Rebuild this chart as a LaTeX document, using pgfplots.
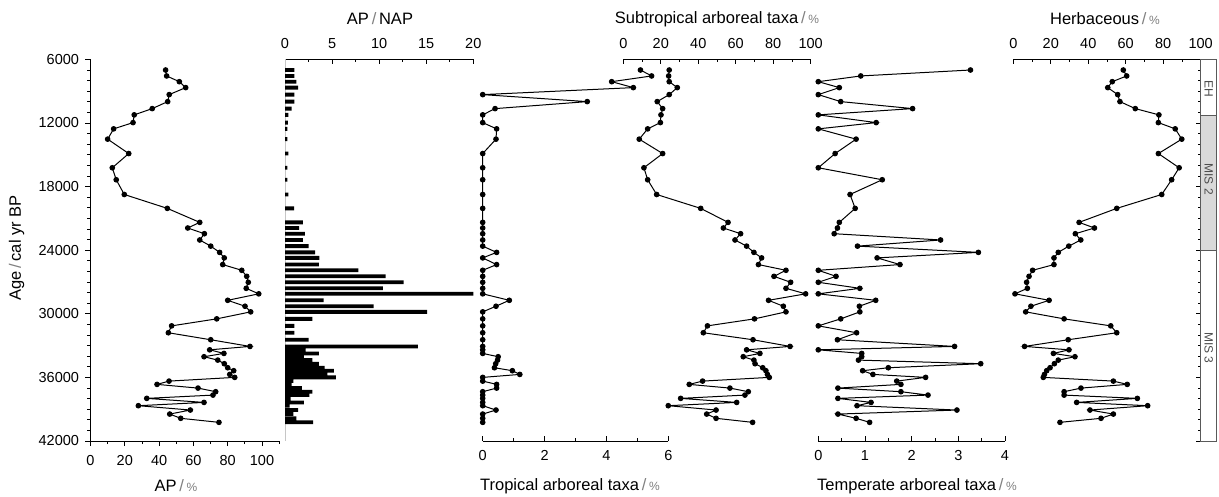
\documentclass[border=0pt]{standalone}
\usepackage{fontspec}
\setmainfont{Liberation Sans}
\usepackage{pgfplots}
\usepackage{pgfplotstable}
\pgfplotsset{compat=1.18}
\pgfplotstableread{
age ap apnap trop sub temp herb
7010 43.8 1.0 5.1 24.5 3.26 58.7
7570 44.4 1.0 5.46 24.2 0.91 60.5
8110 51.8 1.2 4.17 24.5 0 52.8
8670 55.5 1.4 4.87 28.8 0.45 50.4
9330 45.9 1.0 0 24.5 0 55.7
9990 45.0 1.0 3.38 18.1 0.48 56.9
10650 36.0 0.7 0.4 21.0 2.02 65.1
11240 25.5 0.35 0 20.1 0 77.7
11970 24.8 0.3 0 19.8 1.24 77.4
12560 13.5 0.25 0.45 13.0 0 86.4
13530 10.0 0.25 0.43 8.5 0.81 89.9
14890 22.3 0.35 0 21.0 0.36 77.4
16230 12.7 0.25 0 11.0 0 88.5
17360 15.0 0.25 0 13.0 1.37 84.5
18750 19.7 0.35 0 17.8 0.68 79.2
20060 44.8 0.96 0 41.3 0.79 55.2
21380 63.7 1.9 0 55.9 0.45 35.1
21910 56.7 1.5 0 53.4 0.41 43.3
22450 66.4 2.1 0 62.6 0.34 33.1
23040 63.7 1.9 0 59.6 2.62 36.0
23620 70.1 2.5 0 65.8 0.84 29.6
24210 75.3 3.2 0.45 69.7 3.43 24.0
24730 78.0 3.65 0 73.8 1.26 21.7
25360 77.1 3.6 0.45 72.1 1.75 21.7
25900 88.2 7.8 0 86.8 0 10.3
26470 91.1 10.7 0 80.4 0.38 8.4
27030 92.0 12.6 0 89.3 0 7.1
27600 90.8 10.4 0 86.8 0.89 7.5
28120 98.1 20.0 0 97.3 0 0.9
28730 80.0 4.1 0.86 77.5 1.23 19.1
29290 90.1 9.4 0.43 85.4 0.88 9.4
29820 93.4 15.1 0 86.8 0.89 6.6
30480 73.6 2.9 0 70.0 0.48 27.1
31140 47.3 1.0 0 44.9 0 52.0
31790 45.4 1.0 0 42.7 0.82 55.2
32450 70.1 2.5 0 69.2 0.41 29.3
33080 93.0 14.1 0 89.0 2.92 6.0
33400 69.5 2.2 0 65.8 0 29.7
33740 77.8 3.6 0 72.9 0.93 21.4
34050 66.2 2.0 0.5 64.0 0.93 32.9
34370 74.2 2.9 0.48 69.7 0.86 24.0
34710 78.0 3.6 0.42 70.3 3.48 21.9
35090 80.0 4.2 0.38 74.4 1.5 19.6
35370 83.5 5.2 0.96 76.1 0.95 17.8
35720 81.2 4.5 1.2 76.9 1.17 16.6
36000 84.1 5.4 0 77.9 2.3 16.0
36350 45.8 0.9 0 42.3 1.68 53.4
36660 38.8 0.7 0.45 35.2 1.77 60.8
37010 62.7 1.8 0.45 56.9 0.42 36.1
37350 73.0 2.9 0 66.7 1.77 27.1
37670 71.4 2.6 0 64.9 2.35 27.1
37980 32.8 0.6 0 30.6 0.42 66.2
38360 66.2 2.0 0 60.5 1.13 33.8
38670 27.9 0.5 0 24.0 0.83 71.7
39080 58.2 1.4 0.43 49.5 2.97 40.9
39460 46.2 0.9 0 44.5 0.42 53.4
39860 52.6 1.2 0 49.5 0.81 46.8
40240 74.9 3.0 0 69.0 1.1 24.9
}\data
\newcommand{\sep}{{\color{gray}\,/\,}}
\newcommand{\pct}{{\color{gray}\fontsize{12}{12}\selectfont\%}}
\pgfplotsset{
  panel/.style={
    scale only axis, height=381.7pt, anchor=south west,
    ymin=6000, ymax=42000, y dir=reverse,
    axis line style={black, line width=0.75pt},
    every tick/.style={black, line width=0.75pt},
    major tick length=5pt, minor tick length=3pt,
    tick label style={font=\fontsize{14.5}{16}\selectfont},
    /pgf/number format/assume math mode=true,
    /pgf/number format/1000 sep={},
    scaled x ticks=false, scaled y ticks=false,
    clip=false,
  },
  toplab/.style={x tick label style={yshift=7pt}},
  botlab/.style={x tick label style={yshift=-6pt}},
  curve/.style={black, line width=1pt, mark=*, mark size=2.3pt, mark options={solid, fill=black}},
}
\begin{document}
\begin{tikzpicture}
\useasboundingbox (0pt,0pt) rectangle (1219pt,496pt);
% AP
\begin{axis}[panel, botlab, at={(90.5pt,55pt)}, width=188.65pt, xmin=0, xmax=110,
  axis x line*=bottom, axis y line*=left, tick align=outside,
  xtick={0,20,...,100}, minor xtick={10,30,...,110},
  ytick={6000,12000,...,42000}, minor y tick num=5,
  y tick label style={xshift=-3pt}]
\addplot[curve] table[x=ap,y=age]{\data};
\end{axis}
% AP/NAP
\begin{axis}[panel, toplab, at={(285pt,55pt)}, width=188.3pt, xmin=0, xmax=20,
  axis x line*=top, axis y line*=left, y axis line style={gray!45, line width=0.8pt},
  ytick=\empty, tick align=inside, xtick={0,5,...,20}, minor x tick num=1]
\addplot[xbar, bar width=3.8pt, fill=black, draw=none] table[x=apnap,y=age]{\data};
\end{axis}
% Tropical
\begin{axis}[panel, botlab, at={(482.7pt,55pt)}, width=185.6pt, xmin=0, xmax=6,
  axis x line*=bottom, axis y line=none, ytick=\empty,
  tick align=inside, xtick={0,2,4,6}, minor x tick num=1]
\addplot[curve] table[x=trop,y=age]{\data};
\end{axis}
% Subtropical
\begin{axis}[panel, toplab, at={(623.3pt,55pt)}, width=187.4pt, xmin=0, xmax=100,
  axis x line*=top, axis y line=none, ytick=\empty,
  tick align=inside, xtick={0,20,...,100}, minor x tick num=1]
\addplot[curve] table[x=sub,y=age]{\data};
\end{axis}
% Temperate
\begin{axis}[panel, botlab, at={(818.3pt,55pt)}, width=186.7pt, xmin=0, xmax=4,
  axis x line*=bottom, axis y line=none, ytick=\empty,
  tick align=inside, xtick={0,1,...,4}, minor x tick num=1]
\addplot[curve] table[x=temp,y=age]{\data};
\end{axis}
% Herbaceous
\begin{axis}[panel, toplab, at={(1013.3pt,55pt)}, width=187.4pt, xmin=0, xmax=100,
  axis x line*=top, axis y line*=right,
  tick align=inside, xtick={0,20,...,100}, minor x tick num=1,
  ytick={6000,12000,...,42000}, minor y tick num=5, yticklabels={}]
\addplot[curve] table[x=herb,y=age]{\data};
\end{axis}
% stage bar
\begin{axis}[panel, at={(1200.7pt,55pt)}, width=16pt, xmin=0, xmax=1, hide axis]
\draw[gray!70!black, line width=0.5pt, fill=white] (axis cs:0,6000) rectangle (axis cs:1,11300);
\draw[gray!70!black, line width=0.5pt, fill=gray!30] (axis cs:0,11300) rectangle (axis cs:1,24000);
\draw[gray!70!black, line width=0.5pt, fill=white] (axis cs:0,24000) rectangle (axis cs:1,42000);
\node[rotate=-90, font=\fontsize{12}{12}\selectfont, text=black!70] at (axis cs:0.5,8800) {EH};
\node[rotate=-90, font=\fontsize{12}{12}\selectfont, text=black!70] at (axis cs:0.5,17300) {MIS 2};
\node[rotate=-90, font=\fontsize{12}{12}\selectfont, text=black!70] at (axis cs:0.5,33200) {MIS 3};
\end{axis}
% titles
\tikzset{ttl/.style={font=\fontsize{16.5}{18}\selectfont, inner sep=0pt}}
\node[ttl, rotate=90] at (16.5pt,248pt) {Age\sep cal yr BP};
\node[ttl] at (176pt,10pt) {AP\sep\pct};
\node[ttl] at (380pt,477pt) {AP\sep NAP};
\node[ttl] at (717pt,477pt) {Subtropical arboreal taxa\sep\pct};
\node[ttl] at (1105pt,477pt) {Herbaceous\sep\pct};
\node[ttl] at (570pt,10pt) {Tropical arboreal taxa\sep\pct};
\node[ttl] at (917pt,10pt) {Temperate arboreal taxa\sep\pct};
\end{tikzpicture}
\end{document}
